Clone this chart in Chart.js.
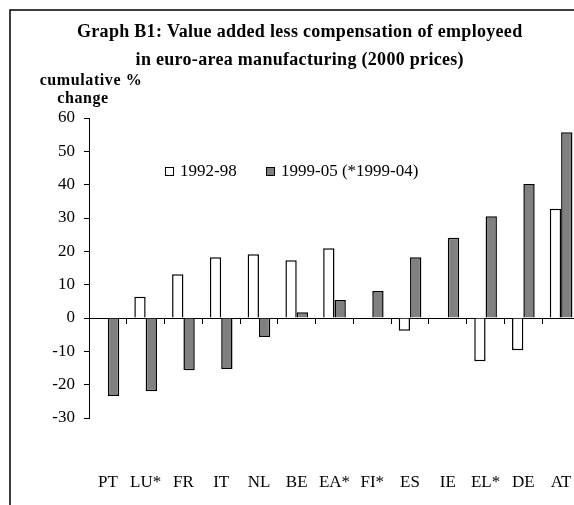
<!DOCTYPE html>
<html>
<head>
<meta charset="utf-8">
<script src="https://cdn.jsdelivr.net/npm/chart.js@4"></script>
<style>
  body { margin: 0; background: #fff; overflow: hidden; }
</style>
</head>
<body>
<canvas id="chart-b1" width="580" height="505"></canvas>
<script>
// Data
let countries = ['PT', 'LU*', 'FR', 'IT', 'NL', 'BE', 'EA*', 'FI*', 'ES', 'IE', 'EL*', 'DE', 'AT'];
let period9298 = [null, 6.4, 13.1, 18.2, 19.1, 17.3, 20.9, null, -3.8, null, -13.0, -9.7, 32.8];
let period9905 = [-23.4, -22.0, -15.7, -15.3, -5.7, 1.7, 5.4, 8.1, 18.2, 24.1, 30.5, 40.2, 55.7];
let seriesNames = ['1992-98', '1999-05 (*1999-04)'];
let titleLines = ['Graph B1: Value added less compensation of employeed', 'in euro-area manufacturing (2000 prices)'];
let axisTitleLines = ['cumulative %', 'change'];

const serif = "'Liberation Serif', 'Times New Roman', serif";
const grey = '#808080';

// Plugin - frame, titles and the legend inside the plot
const decorations = {
    id: 'decorations',
    afterDraw(chart) {
        const ctx = chart.ctx;
        ctx.save();

        // frame round the graph (right and bottom fall outside the picture)
        ctx.strokeStyle = '#000';
        ctx.lineWidth = 1.5;
        ctx.beginPath();
        ctx.moveTo(10, 505);
        ctx.lineTo(10, 10);
        ctx.lineTo(580, 10);
        ctx.stroke();

        ctx.fillStyle = '#000';
        ctx.textBaseline = 'middle';
        ctx.font = 'bold 18px ' + serif;
        ctx.letterSpacing = '0.3px';
        let w1 = ctx.measureText(titleLines[0]).width;
        let cx = 77 + w1 / 2;
        ctx.textAlign = 'center';
        ctx.fillText(titleLines[0], cx, 32);
        ctx.fillText(titleLines[1], cx, 60);

        ctx.font = 'bold 16px ' + serif;
        ctx.letterSpacing = '0.6px';
        ctx.fillText(axisTitleLines[0], 91, 81);
        ctx.fillText(axisTitleLines[1], 83, 99);
        ctx.letterSpacing = '0px';

        // legend
        ctx.font = '17px ' + serif;
        ctx.textAlign = 'left';
        ctx.lineWidth = 1;
        let items = [{x: 165, fill: '#fff', text: seriesNames[0]}, {x: 266, fill: grey, text: seriesNames[1]}];
        items.forEach(function (item) {
            ctx.fillStyle = item.fill;
            ctx.fillRect(item.x + 0.5, 167.5, 8, 8);
            ctx.strokeRect(item.x + 0.5, 167.5, 8, 8);
            ctx.fillStyle = '#000';
            ctx.fillText(item.text, item.x + 15, 172);
        });
        ctx.restore();
    }
};

let ctx = document.getElementById('chart-b1').getContext('2d');
let graph = new Chart(ctx, {
    type: 'bar',
    data: {
        labels: countries,
        datasets: [
            {
                label: seriesNames[0],
                data: period9298,
                backgroundColor: '#ffffff',
                borderColor: '#000000',
                borderWidth: 1.5,
                xAxisID: 'x'
            },
            {
                label: seriesNames[1],
                data: period9905,
                backgroundColor: grey,
                borderColor: '#000000',
                borderWidth: 1.5,
                xAxisID: 'x'
            }
        ]
    },
    options: {
        responsive: false,
        animation: false,
        categoryPercentage: 0.6,
        barPercentage: 1.0,
        layout: {
            padding: {top: 118, left: 0, right: 0, bottom: 12}
        },
        plugins: {
            legend: {display: false},
            title: {display: false},
            tooltip: {enabled: false}
        },
        scales: {
            x: {
                type: 'category',
                position: {y: 0},
                offset: true,
                ticks: {display: false},
                grid: {
                    offset: true,
                    drawOnChartArea: false,
                    tickLength: 5,
                    color: '#000',
                    lineWidth: 1
                },
                border: {display: true, color: '#000', width: 1}
            },
            x2: {
                type: 'category',
                position: 'bottom',
                offset: true,
                grid: {display: false, drawTicks: false},
                border: {display: false},
                ticks: {
                    padding: 54,
                    color: '#000',
                    font: {family: serif, size: 17},
                    maxRotation: 0,
                    autoSkip: false
                },
                afterFit: function (scale) {
                    // keep the label gap from eating the plot width
                    scale.height = 75;
                    scale.paddingLeft = 0;
                    scale.paddingRight = 0;
                    scale.paddingTop = 0;
                    scale.paddingBottom = 0;
                }
            },
            y: {
                min: -30,
                max: 60,
                ticks: {
                    stepSize: 10,
                    padding: 9,
                    color: '#000',
                    font: {family: serif, size: 17}
                },
                grid: {
                    drawOnChartArea: false,
                    tickLength: 5,
                    color: '#000'
                },
                border: {display: true, color: '#000', width: 1},
                afterFit: function (scale) {
                    scale.width = 89;
                }
            }
        }
    },
    plugins: [decorations]
});
</script>
</body>
</html>
